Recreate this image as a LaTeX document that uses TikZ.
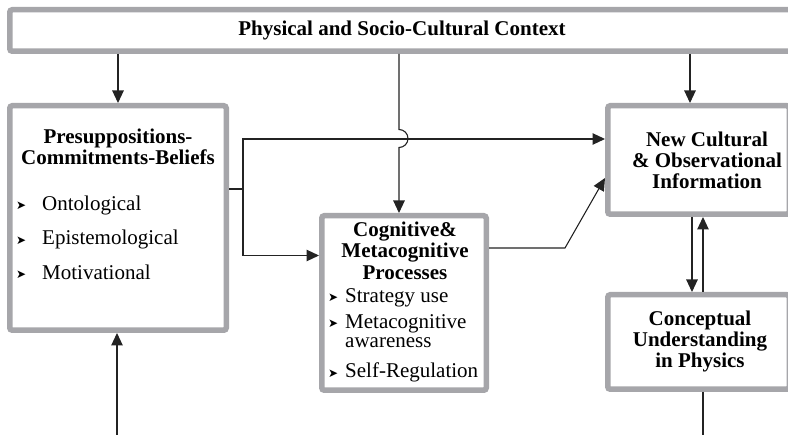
\documentclass[tikz,border=0pt]{standalone}
\usepackage{fontspec}
\setmainfont{Liberation Serif}
\newfontfamily\markfont{DejaVu Sans}
\usepackage{xcolor}
\usepackage{tikz}
\usetikzlibrary{arrows.meta, positioning}

\definecolor{boxgray}{RGB}{166,166,170}
\definecolor{linegray}{RGB}{35,35,35}
\newcommand{\bmark}{{\markfont\fontsize{12}{12}\selectfont\raisebox{0.5pt}{➤}}}

\begin{document}
\begin{tikzpicture}[
        x=1pt, y=-1pt,
        box/.style={rectangle, draw=boxgray, line width=5.5pt, rounded corners=2.5pt, fill=white, inner sep=0pt},
        title/.style={align=center, font=\bfseries\fontsize{21}{21}\selectfont, inner sep=0pt},
        itemlist/.style={align=left, anchor=west, inner sep=0pt},
        flow/.style={-{Triangle[length=12.5pt, width=11.5pt]}, draw=linegray, line width=1.1pt},
        plain/.style={draw=linegray, line width=1.1pt}
        ]
        \useasboundingbox (0,0) rectangle (788,435);
        \clip (0,0) rectangle (788,435);

        % Boxes
        \node[box, minimum width=784.5pt, minimum height=41.5pt, font=\bfseries\fontsize{21}{21}\selectfont] (context) at (402,30.5) {Physical and Socio-Cultural Context};
        \node[box, minimum width=216.5pt, minimum height=224.5pt] (beliefs) at (118,218) {};
        \node[box, minimum width=164.5pt, minimum height=174.5pt] (processes) at (404,303) {};
        \node[box, minimum width=181.5pt, minimum height=108.5pt] (newinfo) at (698.5,160) {};
        \node[box, minimum width=181.5pt, minimum height=94.5pt] (conceptual) at (698.5,342) {};

        % Texts inside the boxes
        \node[title] (beliefs-title) at (118,147) {Presuppositions-\\Commitments-Beliefs};
        \node[itemlist, font=\fontsize{21}{34.5}\selectfont] (beliefs-list) at (16,237.5)
            {\makebox[26pt][l]{\bmark}Ontological\\\makebox[26pt][l]{\bmark}Epistemological\\\makebox[26pt][l]{\bmark}Motivational};
        \node[title, font=\bfseries\fontsize{21}{21.5}\selectfont] (processes-title) at (405,250.5) {Cognitive\&\\Metacognitive\\Processes};
        \node[itemlist, font=\fontsize{21}{19.5}\selectfont] (processes-list) at (328,335.5)
            {\makebox[17pt][l]{\bmark}Strategy use\\[6.5pt]\makebox[17pt][l]{\bmark}Metacognitive\\\hspace*{17pt}awareness\\[10.5pt]\makebox[17pt][l]{\bmark}Self-Regulation};
        \node[title] (newinfo-title) at (707,160) {New Cultural\\\& Observational\\Information};
        \node[title] (conceptual-title) at (700,341) {Conceptual\\Understanding\\in Physics};

        % Free ends and bends
        \coordinate (split) at (243,189);
        \coordinate (knee) at (565,248);
        \coordinate (mid) at (399,0);
        \coordinate (loopleft) at (117,440);
        \coordinate (loopright) at (703,440);

        % Relations
        \draw[flow] (context.south -| beliefs.north) -- (beliefs.north);
        \draw[flow] (context.south -| mid) -- (399,129.5) arc[start angle=90, end angle=-90, radius=9pt] -- (processes.north -| mid);
        \draw[flow] (context.south -| 690,0) -- (newinfo.north -| 690,0);
        \draw[plain] (beliefs.east |- split) -- (split);
        \draw[flow] (split) |- (newinfo.west |- 0,139);
        \draw[flow] (split) |- (processes.west |- 0,255.5);
        \draw[flow] (processes.east |- knee) -- (knee) -- (newinfo.west |- 0,178);
        \draw[flow] (newinfo.south -| 692,0) -- (conceptual.north -| 692,0);
        \draw[flow] (conceptual.north -| loopright) -- (newinfo.south -| loopright);
        \draw[plain] (conceptual.south -| loopright) -- (loopright);
        \draw[flow] (loopleft) -- (beliefs.south -| loopleft);
\end{tikzpicture}
\end{document}
